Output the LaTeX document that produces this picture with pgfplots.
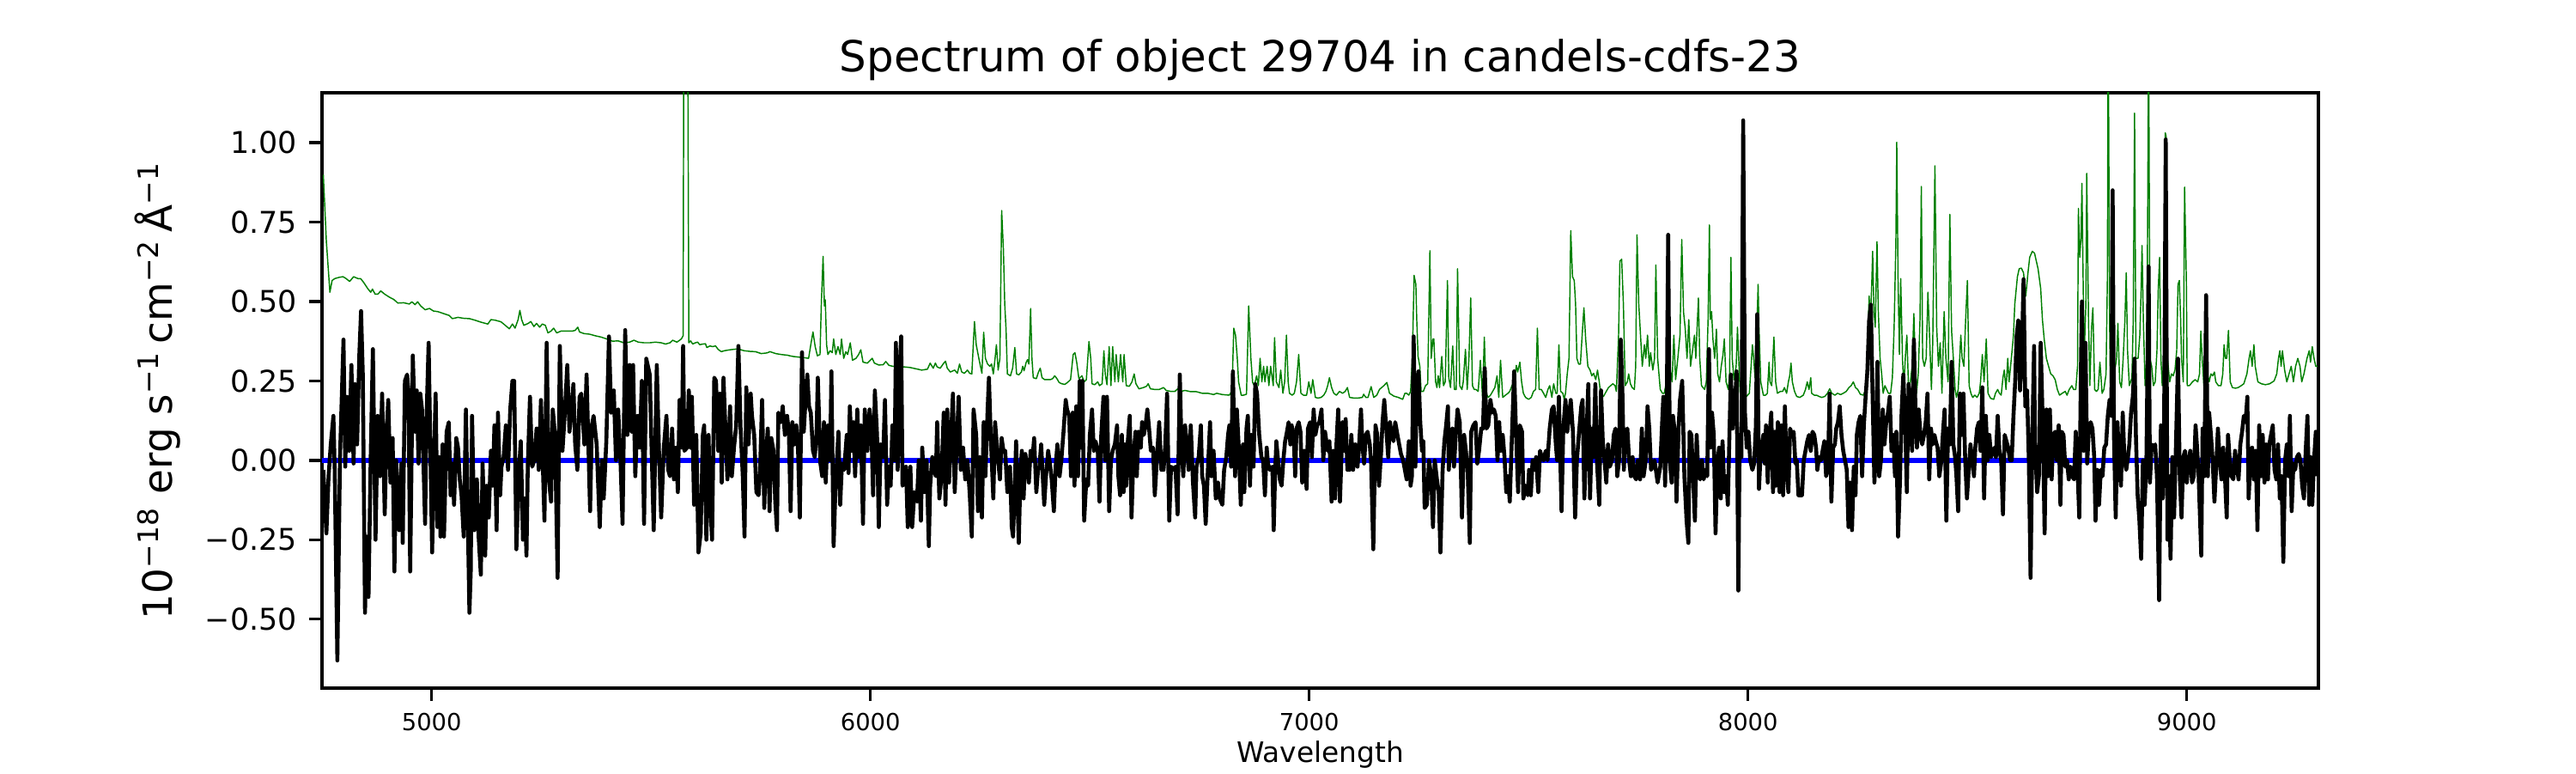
\documentclass[border=0pt]{standalone}
\usepackage{fontspec}
\setmainfont{DejaVu Sans}
\usepackage{pgfplots}
\pgfplotsset{compat=1.18}
\definecolor{mplgreen}{rgb}{0,0.5,0}
\begin{document}
\begin{tikzpicture}
\useasboundingbox (0,0) rectangle (10in,3in);
\begin{axis}[
 at={(1.25in,0.33in)}, anchor=south west,
 scale only axis, width=7.75in, height=2.31in,
 xmin=4750, xmax=9300, ymin=-0.717, ymax=1.157,
 axis line style={line width=0.8pt},
 tick align=outside, major tick length=3.5pt,
 tick style={line width=0.8pt, black},
 xtick pos=left, ytick pos=left,
 xtick={5000,6000,7000,8000,9000},
 xticklabels={5000,6000,7000,8000,9000},
 ytick={-0.5,-0.25,0,0.25,0.5,0.75,1},
 yticklabels={−0.50,−0.25,0.00,0.25,0.50,0.75,1.00},
 xticklabel style={font=\fontsize{6.6}{8}\selectfont},
 yticklabel style={font=\fontsize{8.4}{10}\selectfont},
 title={Spectrum of object 29704 in candels-cdfs-23},
 title style={font=\fontsize{12}{14}\selectfont, anchor=base},
 xlabel={Wavelength},
 xlabel style={font=\fontsize{7.9}{9}\selectfont, at={(rel axis cs:0.5,0)}, anchor=base, yshift=-20.9pt},
 ylabel={10\textsuperscript{−18} erg s\textsuperscript{−1}\,cm\textsuperscript{−2}\,Å\textsuperscript{−1}},
 ylabel style={font=\fontsize{11.3}{13}\selectfont},
 clip=true,
]
\addplot[blue, line width=1.3pt] coordinates {(4750,0) (9298,0)};
\addplot[mplgreen, line width=0.35pt, line join=round] coordinates {
(4753,0.899) (4760,0.688) (4768,0.529) (4773,0.566) (4779,0.572) (4789,0.576) (4798,0.578) (4805,0.572) (4813,0.563) (4822,0.578)
(4832,0.572) (4838,0.572) (4845,0.560) (4854,0.541) (4861,0.529) (4865,0.539) (4871,0.523) (4877,0.523) (4884,0.533) (4893,0.523)
(4903,0.514) (4913,0.507) (4923,0.495) (4936,0.496) (4949,0.492) (4955,0.499) (4962,0.490) (4968,0.499) (4975,0.486) (4985,0.474)
(4995,0.478) (5004,0.470) (5014,0.468) (5027,0.462) (5040,0.456) (5047,0.446) (5060,0.450) (5073,0.447) (5086,0.446) (5099,0.441)
(5112,0.435) (5128,0.429) (5135,0.443) (5145,0.441) (5158,0.436) (5171,0.421) (5177,0.414) (5184,0.429) (5190,0.416) (5197,0.443)
(5201,0.472) (5205,0.443) (5210,0.425) (5220,0.431) (5226,0.437) (5233,0.421) (5239,0.431) (5246,0.419) (5252,0.429) (5259,0.425)
(5265,0.401) (5272,0.407) (5278,0.416) (5285,0.401) (5295,0.407) (5308,0.407) (5321,0.407) (5327,0.409) (5333,0.419) (5337,0.404)
(5347,0.399) (5360,0.397) (5373,0.392) (5386,0.388) (5399,0.382) (5412,0.375) (5425,0.376) (5438,0.370) (5451,0.372) (5461,0.378)
(5471,0.372) (5484,0.370) (5497,0.370) (5510,0.372) (5523,0.370) (5533,0.366) (5543,0.370)
(5549,0.378) (5559,0.372) (5569,0.382) (5573,0.392) (5575,1.6) (5583,1.6) (5586,0.370) (5590,0.376) (5595,0.366) (5601,0.370)
(5606,0.372) (5611,0.364) (5618,0.366) (5624,0.367) (5627,0.355) (5634,0.360) (5640,0.358) (5647,0.360) (5653,0.349) (5660,0.342)
(5667,0.345) (5680,0.348) (5693,0.350) (5702,0.349) (5712,0.345) (5725,0.343) (5738,0.342) (5751,0.336) (5764,0.338) (5771,0.342)
(5784,0.336) (5797,0.333) (5810,0.331) (5823,0.327) (5836,0.325) (5849,0.323) (5859,0.321) (5864,0.364) (5869,0.404) (5874,0.358)
(5879,0.329) (5885,0.333) (5888,0.492) (5892,0.642) (5895,0.486) (5897,0.505) (5900,0.364) (5903,0.333) (5908,0.345) (5913,0.339)
(5916,0.382) (5921,0.333) (5926,0.358) (5931,0.333) (5934,0.382) (5939,0.321) (5944,0.342) (5948,0.333) (5954,0.370) (5959,0.315)
(5967,0.321) (5973,0.333) (5978,0.348) (5983,0.309) (5993,0.306) (6004,0.321) (6009,0.306) (6019,0.300) (6029,0.301) (6035,0.311)
(6042,0.299) (6051,0.296) (6064,0.294) (6077,0.294) (6091,0.292) (6104,0.288) (6117,0.284) (6130,0.287) (6136,0.306) (6143,0.290)
(6148,0.306) (6152,0.294) (6159,0.290) (6166,0.304) (6171,0.312) (6175,0.290) (6182,0.278) (6192,0.284) (6198,0.274) (6203,0.303)
(6208,0.278) (6214,0.274) (6221,0.284) (6226,0.274) (6231,0.272) (6237,0.437) (6241,0.364) (6247,0.321) (6254,0.274) (6258,0.403)
(6262,0.321) (6267,0.303) (6272,0.296) (6276,0.303) (6280,0.272) (6284,0.321) (6287,0.364) (6291,0.284) (6295,0.321) (6299,0.786)
(6303,0.664) (6306,0.492) (6309,0.413)
(6312,0.272) (6319,0.266) (6324,0.290) (6329,0.355) (6333,0.272) (6338,0.269) (6344,0.278) (6347,0.296) (6350,0.282) (6355,0.309)
(6358,0.317) (6361,0.303) (6365,0.478) (6368,0.321) (6371,0.260) (6378,0.257) (6383,0.278) (6387,0.290) (6391,0.260) (6397,0.254)
(6404,0.254) (6410,0.254) (6415,0.257) (6420,0.266) (6425,0.257) (6430,0.245) (6436,0.241) (6443,0.239) (6449,0.245) (6456,0.254)
(6462,0.333) (6466,0.339) (6470,0.309) (6475,0.257) (6482,0.266) (6487,0.247) (6492,0.254) (6498,0.374) (6502,0.321) (6505,0.241)
(6511,0.238) (6518,0.247) (6522,0.235) (6528,0.241) (6532,0.345) (6535,0.272) (6539,0.238) (6544,0.358) (6548,0.235) (6552,0.358)
(6557,0.247) (6560,0.333) (6565,0.247) (6570,0.333) (6575,0.247) (6578,0.333) (6583,0.235) (6590,0.233) (6596,0.247) (6601,0.272)
(6605,0.241) (6612,0.225) (6622,0.229) (6629,0.233) (6633,0.241) (6638,0.225) (6648,0.223) (6658,0.223) (6668,0.229) (6674,0.220)
(6684,0.217) (6694,0.217) (6700,0.225) (6707,0.217) (6717,0.220) (6730,0.216) (6743,0.216) (6756,0.211) (6769,0.211) (6782,0.207)
(6789,0.211) (6802,0.207) (6818,0.205) (6824,0.220) (6828,0.416) (6832,0.394) (6836,0.321) (6839,0.247) (6845,0.205) (6850,0.205)
(6857,0.208) (6862,0.486) (6867,0.321) (6871,0.245) (6875,0.235) (6880,0.266) (6884,0.235) (6888,0.321) (6892,0.247) (6896,0.296)
(6899,0.247) (6904,0.296) (6908,0.235) (6912,0.296) (6918,0.235) (6921,0.386) (6925,0.247) (6931,0.229) (6935,0.284) (6940,0.211)
(6944,0.247) (6948,0.394) (6952,0.247) (6955,0.211) (6961,0.205) (6966,0.211) (6971,0.247) (6976,0.333) (6981,0.211) (6987,0.205)
(6994,0.205) (6999,0.247) (7004,0.211) (7008,0.254) (7014,0.198) (7020,0.196) (7027,0.198) (7033,0.205) (7038,0.217) (7042,0.235)
(7046,0.260) (7051,0.229) (7056,0.211) (7062,0.205) (7069,0.217) (7076,0.211) (7082,0.217) (7087,0.229)
(7092,0.198) (7102,0.196) (7111,0.196) (7121,0.198) (7124,0.208) (7129,0.198) (7134,0.198) (7141,0.232) (7147,0.198) (7154,0.205)
(7160,0.223) (7170,0.235) (7177,0.245) (7183,0.211) (7193,0.202) (7203,0.198) (7213,0.192) (7218,0.211) (7222,0.211) (7227,0.205)
(7231,0.217) (7235,0.321) (7239,0.582) (7243,0.554) (7245,0.443) (7248,0.327) (7252,0.296) (7255,0.217) (7260,0.217) (7265,0.235)
(7270,0.241) (7275,0.660) (7278,0.321) (7282,0.382) (7284,0.382) (7288,0.247) (7291,0.229) (7294,0.266) (7297,0.229) (7302,0.327)
(7306,0.235) (7310,0.247) (7315,0.566) (7318,0.260) (7322,0.229) (7327,0.360) (7331,0.223) (7335,0.223) (7338,0.603) (7343,0.235)
(7348,0.223) (7351,0.247) (7356,0.349) (7360,0.223) (7364,0.321) (7368,0.511) (7372,0.235) (7376,0.223) (7380,0.223) (7385,0.217)
(7390,0.315) (7395,0.198) (7399,0.388) (7403,0.211) (7408,0.198) (7413,0.205) (7418,0.217) (7423,0.229) (7428,0.266) (7432,0.198)
(7436,0.315) (7441,0.198) (7447,0.205) (7453,0.211) (7457,0.217) (7462,0.235) (7467,0.247) (7472,0.299) (7475,0.278) (7480,0.309)
(7484,0.247) (7488,0.211) (7493,0.198) (7500,0.192) (7506,0.198) (7511,0.217) (7516,0.223) (7520,0.416) (7524,0.223) (7529,0.223)
(7534,0.211) (7539,0.198) (7544,0.223) (7548,0.235) (7553,0.198) (7557,0.241) (7562,0.211) (7565,0.211) (7569,0.364) (7573,0.217)
(7578,0.211) (7581,0.192) (7584,0.211) (7588,0.272) (7592,0.321) (7596,0.723) (7600,0.578) (7604,0.566) (7607,0.492) (7610,0.321)
(7614,0.303) (7618,0.303) (7622,0.394) (7626,0.480) (7630,0.382) (7635,0.296) (7640,0.284) (7644,0.266) (7648,0.274) (7653,0.254)
(7657,0.284) (7661,0.247) (7665,0.198) (7671,0.202) (7677,0.217) (7682,0.229) (7687,0.235) (7692,0.241) (7697,0.235) (7700,0.217)
(7705,0.394) (7708,0.627) (7712,0.633) (7716,0.492) (7720,0.235) (7725,0.247) (7728,0.272) (7732,0.241) (7736,0.229) (7741,0.223)
(7744,0.296) (7747,0.710) (7751,0.492) (7755,0.394) (7759,0.296) (7764,0.364) (7767,0.321) (7771,0.394) (7775,0.296) (7778,0.339)
(7783,0.284) (7787,0.321) (7790,0.615) (7794,0.321) (7800,0.223) (7805,0.211) (7809,0.211) (7814,0.247) (7818,0.370) (7822,0.296)
(7827,0.247) (7831,0.394) (7835,0.254) (7840,0.321) (7845,0.394) (7849,0.695) (7853,0.468) (7857,0.413) (7861,0.321) (7865,0.443)
(7869,0.296)
(7878,0.394) (7881,0.321) (7884,0.419) (7887,0.511) (7890,0.321) (7894,0.235) (7901,0.223) (7905,0.247) (7909,0.443) (7912,0.741)
(7914,0.443) (7917,0.468) (7920,0.382) (7924,0.321) (7928,0.413) (7931,0.272) (7935,0.247) (7939,0.296) (7943,0.333) (7946,0.382)
(7950,0.247) (7955,0.223) (7958,0.272) (7961,0.639) (7964,0.321) (7968,0.254) (7973,0.296) (7976,0.419) (7978,0.345) (7982,0.211)
(7989,0.205) (7994,0.198) (7999,0.205) (8003,0.211) (8007,0.296) (8010,0.364) (8013,0.321) (8016,0.260) (8020,0.407) (8023,0.554)
(8025,0.419) (8029,0.247) (8035,0.205) (8040,0.205) (8044,0.211) (8048,0.309) (8050,0.247) (8054,0.235) (8059,0.388) (8063,0.247)
(8067,0.211) (8074,0.217) (8079,0.217) (8083,0.229) (8088,0.211) (8092,0.247) (8095,0.266) (8098,0.306) (8101,0.247) (8106,0.217)
(8111,0.201) (8118,0.198) (8126,0.205) (8131,0.223) (8135,0.247) (8139,0.223) (8143,0.260) (8145,0.211) (8151,0.205) (8156,0.205)
(8162,0.201) (8168,0.198) (8175,0.201) (8181,0.211) (8186,0.225) (8191,0.211) (8198,0.205) (8204,0.211) (8211,0.207) (8217,0.211)
(8224,0.217) (8230,0.229) (8235,0.235) (8240,0.247) (8245,0.229) (8250,0.223) (8256,0.208) (8263,0.205) (8268,0.223) (8272,0.345)
(8276,0.517) (8279,0.443) (8282,0.554) (8284,0.658) (8287,0.468) (8290,0.419) (8294,0.688) (8297,0.468) (8301,0.321) (8305,0.266)
(8308,0.211) (8312,0.235) (8316,0.223) (8320,0.211) (8325,0.211) (8329,0.260) (8333,0.419) (8337,0.688) (8339,1.001) (8342,0.566)
(8345,0.333) (8348,0.572) (8352,0.321) (8355,0.235) (8359,0.333) (8362,0.394) (8366,0.223) (8370,0.247) (8374,0.296) (8378,0.462)
(8381,0.321) (8384,0.211) (8388,0.272) (8392,0.443) (8395,0.862) (8398,0.321) (8402,0.296) (8406,0.321) (8410,0.529) (8414,0.382)
(8418,0.223) (8421,0.370) (8426,0.927) (8430,0.419) (8434,0.296) (8438,0.370) (8442,0.211) (8447,0.468) (8451,0.321) (8456,0.247)
(8460,0.774) (8464,0.407) (8468,0.321) (8472,0.223) (8475,0.198) (8479,0.223) (8485,0.394) (8488,0.321) (8492,0.296) (8496,0.443)
(8500,0.566) (8504,0.235) (8508,0.211) (8512,0.198) (8517,0.205) (8522,0.198) (8527,0.211) (8530,0.247) (8534,0.333) (8538,0.247)
(8543,0.382) (8547,0.211) (8553,0.195) (8560,0.192) (8564,0.211) (8569,0.223) (8573,0.211) (8577,0.205) (8581,0.260) (8584,0.284)
(8588,0.223) (8592,0.321) (8595,0.247) (8601,0.333) (8605,0.394) (8608,0.492) (8614,0.578) (8618,0.603) (8623,0.605) (8628,0.590)
(8633,0.517) (8638,0.590) (8642,0.639) (8648,0.658) (8653,0.652)
(8661,0.603) (8667,0.541) (8671,0.443) (8675,0.382) (8680,0.321) (8685,0.296) (8690,0.272) (8695,0.266) (8700,0.254) (8705,0.223)
(8710,0.205) (8716,0.211) (8723,0.217) (8727,0.205) (8732,0.223) (8738,0.235) (8742,0.223) (8747,0.223) (8751,0.296) (8753,0.793)
(8756,0.639) (8759,0.701) (8761,0.872) (8764,0.541) (8766,0.321) (8770,0.492) (8772,0.903) (8776,0.443) (8779,0.235) (8783,0.419)
(8786,0.480) (8790,0.223) (8794,0.217) (8798,0.223) (8802,0.309) (8804,0.272) (8807,0.211) (8811,0.223) (8816,0.272) (8819,0.566)
(8821,1.4) (8824,0.443) (8826,0.223) (8830,0.235) (8836,0.284) (8840,0.321) (8843,0.431) (8847,0.247) (8851,0.229) (8855,0.321)
(8859,0.443) (8862,0.590) (8865,0.345) (8869,0.235) (8875,0.260) (8878,0.443) (8881,1.093) (8884,0.321) (8889,0.321) (8893,0.394)
(8896,0.541) (8898,0.676) (8901,0.443) (8905,0.235) (8909,0.321) (8911,0.811) (8913,1.4) (8916,0.321) (8920,0.296) (8924,0.235)
(8928,0.247) (8932,0.345) (8935,0.541) (8938,0.639) (8941,0.321) (8944,0.235) (8948,0.321) (8951,1.031) (8953,1.019) (8956,0.321)
(8961,0.247) (8965,0.272) (8969,0.266) (8973,0.284) (8977,0.345) (8980,0.554) (8983,0.566) (8986,0.443) (8988,0.321) (8992,0.247)
(8995,0.860) (8999,0.566) (9001,0.235) (9006,0.235) (9013,0.247) (9019,0.254) (9025,0.247) (9029,0.272) (9032,0.407) (9035,0.321)
(9039,0.235) (9043,0.247) (9047,0.272) (9051,0.247) (9055,0.272) (9059,0.266) (9063,0.278) (9066,0.247) (9072,0.235) (9078,0.235)
(9082,0.272) (9085,0.364) (9088,0.321) (9091,0.321) (9095,0.409) (9099,0.247) (9104,0.229) (9111,0.227) (9117,0.229) (9124,0.235)
(9130,0.241) (9137,0.272) (9142,0.321) (9145,0.345) (9149,0.296) (9153,0.364) (9156,0.296) (9162,0.247) (9170,0.241) (9179,0.238)
(9189,0.241) (9199,0.250) (9205,0.272) (9209,0.321) (9212,0.345) (9215,0.296) (9218,0.345) (9223,0.284) (9228,0.247) (9233,0.272)
(9238,0.296) (9243,0.247) (9248,0.296) (9253,0.321) (9258,0.296) (9262,0.247) (9267,0.272) (9274,0.321) (9279,0.345) (9282,0.309)
(9286,0.358) (9290,0.321) (9294,0.296) (9298,0.296)
};
\addplot[black, line width=1.1pt, line join=round] coordinates {
(4753,-0.03) (4760,-0.23) (4765,-0.05) (4770,0.05) (4776,0.14) (4779,-0.03) (4785,-0.63) (4791,0.01) (4799,0.38) (4803,-0.02)
(4807,0.20) (4812,0.03) (4817,0.30) (4822,-0.01) (4825,0.24) (4830,0.05) (4835,0.33) (4839,0.47) (4843,0.27) (4848,-0.48)
(4852,-0.24) (4856,-0.43) (4861,0.01) (4866,0.35) (4872,-0.25) (4877,0.14) (4882,-0.05) (4887,0.21) (4893,-0.17) (4897,0.08)
(4901,0.19) (4906,-0.07) (4911,0.07) (4915,-0.35) (4919,0.00) (4926,-0.22) (4931,-0.01) (4934,-0.26) (4939,0.25) (4944,0.27)
(4947,0.22) (4951,-0.35) (4957,0.33) (4962,0.09) (4966,0.22) (4970,-0.01) (4974,0.21) (4978,0.16) (4985,-0.20) (4988,0.12)
(4993,0.37) (4998,-0.05) (5001,-0.29) (5005,-0.01) (5009,0.21) (5013,-0.21) (5017,0.01) (5020,-0.24) (5025,0.05) (5028,-0.24)
(5034,0.09) (5039,0.12) (5043,-0.11) (5047,-0.01) (5051,-0.14) (5056,0.07) (5060,0.04) (5064,-0.06) (5068,-0.11) (5073,-0.24)
(5078,0.16) (5081,-0.08) (5086,-0.48) (5089,-0.35) (5092,0.14) (5097,-0.22) (5103,-0.06) (5107,-0.24) (5112,-0.36) (5116,-0.01)
(5122,-0.30) (5125,-0.08) (5130,-0.18) (5135,0.03) (5139,-0.08) (5143,0.11) (5148,-0.22) (5151,0.15) (5156,-0.11) (5159,-0.02)
(5164,0.01) (5169,0.11) (5174,-0.03) (5179,0.16) (5184,0.25) (5188,0.25) (5193,-0.28) (5199,-0.03) (5203,0.06) (5208,-0.25)
(5212,-0.12) (5216,-0.30) (5219,-0.02) (5224,0.20) (5229,-0.02) (5234,0.00) (5239,0.10) (5244,-0.03) (5249,0.19) (5253,0.00)
(5257,-0.19) (5262,0.37) (5267,-0.06) (5272,-0.13) (5276,0.16) (5281,0.08) (5287,-0.37) (5292,0.36) (5298,0.03) (5303,0.14)
(5309,0.30) (5314,0.09) (5318,0.15) (5323,0.24) (5327,0.05) (5332,-0.03) (5337,0.20) (5341,0.21) (5348,0.05) (5353,0.27)
(5361,-0.16) (5365,0.11) (5369,0.14) (5376,0.05) (5383,-0.21) (5388,0.00) (5392,-0.12) (5398,0.06) (5404,0.39) (5409,0.15)
(5415,0.22) (5420,0.00) (5425,0.16) (5430,0.01) (5435,-0.20) (5441,0.41) (5446,0.08) (5451,0.30) (5456,0.09) (5459,0.30)
(5464,-0.05) (5469,0.14) (5474,0.04) (5479,0.25) (5484,-0.20) (5489,0.32) (5497,0.27) (5500,0.10) (5506,-0.22) (5513,0.30)
(5518,0.03) (5523,-0.18) (5529,0.04) (5535,0.14) (5539,-0.03)
(5543,-0.05) (5548,0.10) (5552,-0.06) (5557,0.04) (5561,-0.10) (5565,0.19) (5570,0.04) (5573,0.36) (5576,0.03) (5582,0.04)
(5586,0.22) (5590,0.04) (5593,0.20) (5598,-0.14) (5603,0.08) (5608,-0.29) (5613,-0.23) (5618,0.08) (5621,0.11) (5626,-0.25)
(5631,0.08) (5634,-0.11) (5639,-0.25) (5644,0.26) (5648,0.25) (5653,0.03) (5657,0.21) (5661,-0.07) (5665,0.26) (5670,0.08)
(5674,-0.06) (5680,0.17) (5684,-0.05) (5689,0.04) (5694,0.11) (5699,0.36) (5704,0.10) (5709,-0.05) (5713,-0.24) (5717,0.23)
(5722,0.05) (5727,0.21) (5730,0.14) (5735,0.08) (5740,-0.10) (5745,-0.11) (5748,-0.05) (5753,0.19) (5758,-0.15) (5761,0.00)
(5766,0.10) (5770,-0.16) (5774,0.07) (5779,0.03) (5783,-0.13) (5787,-0.22) (5790,0.15) (5796,0.12) (5800,0.17) (5805,0.08)
(5810,0.14) (5814,0.09) (5818,-0.16) (5822,0.12) (5826,0.05) (5831,0.11) (5835,0.03) (5839,-0.18) (5844,0.34) (5848,0.09)
(5852,0.19) (5856,0.27) (5860,0.17) (5864,0.15) (5869,0.03) (5873,0.01) (5877,0.08) (5880,0.26) (5886,-0.01) (5890,-0.05)
(5894,0.12) (5898,-0.07) (5903,0.11) (5908,0.00) (5911,0.28) (5916,-0.27) (5920,-0.10) (5924,0.01) (5927,0.09) (5931,-0.14)
(5935,-0.01) (5940,-0.03) (5946,0.08) (5950,-0.04) (5953,0.17) (5957,0.03) (5961,0.12) (5965,-0.05) (5970,0.16) (5973,0.01)
(5978,0.11) (5983,-0.20) (5987,0.16) (5993,0.03) (5998,0.16) (6002,0.11) (6006,-0.11) (6010,0.22) (6015,0.08) (6019,-0.21)
(6023,0.05) (6029,0.01) (6033,0.19) (6038,-0.14) (6042,-0.02) (6046,-0.08) (6050,0.11) (6055,0.00) (6058,0.37) (6062,-0.03)
(6066,0.27) (6070,0.39) (6073,-0.08) (6077,-0.07) (6081,-0.02) (6085,-0.21) (6091,-0.02) (6095,-0.21) (6100,-0.10) (6106,-0.13)
(6110,0.00) (6115,-0.19) (6118,0.04) (6123,-0.10) (6128,0.00) (6133,-0.27) (6136,-0.08) (6141,0.01) (6145,-0.03) (6149,-0.05)
(6152,0.12) (6157,-0.12) (6162,-0.05) (6167,0.15) (6171,-0.14) (6175,0.16) (6179,-0.07) (6183,0.06) (6188,0.21) (6192,-0.10)
(6196,0.03) (6201,0.20) (6206,-0.03) (6211,0.04) (6216,-0.06) (6221,0.00) (6226,-0.10) (6231,-0.24) (6235,0.16) (6241,0.08)
(6245,-0.16) (6249,0.01) (6254,-0.18) (6258,0.12) (6262,-0.05) (6267,0.16) (6270,0.26) (6274,0.08) (6280,-0.12) (6284,0.12)
(6289,0.03) (6295,-0.06) (6299,0.07) (6303,0.03) (6307,0.03) (6312,-0.10) (6318,-0.02) (6322,-0.21)
(6325,-0.24) (6329,-0.07) (6332,0.06) (6335,-0.12) (6338,-0.26) (6342,-0.03) (6345,0.03) (6349,-0.12) (6353,0.02) (6357,-0.02)
(6361,-0.07) (6365,0.03) (6369,0.00) (6373,0.07) (6378,-0.10) (6382,-0.03) (6385,-0.02) (6389,0.05) (6393,-0.06) (6396,-0.14)
(6400,-0.05) (6405,0.03) (6409,-0.01) (6413,-0.06) (6418,-0.16) (6422,-0.02) (6426,0.05) (6431,-0.05) (6435,0.00) (6440,0.09)
(6445,0.19) (6448,0.16) (6453,0.14) (6457,-0.05) (6461,0.15) (6465,-0.08) (6469,0.17) (6473,-0.05) (6477,0.25) (6480,0.04)
(6483,0.25) (6487,-0.19) (6492,-0.06) (6496,-0.08) (6500,0.08) (6505,0.16) (6509,0.03) (6513,0.06) (6518,0.03) (6522,-0.13)
(6526,0.08) (6531,0.20) (6535,0.00) (6539,0.20) (6544,-0.16) (6548,0.00) (6552,0.03) (6557,0.05) (6562,0.11) (6565,-0.05)
(6569,-0.11) (6573,0.08) (6577,-0.10) (6580,0.05) (6583,-0.08) (6586,0.05) (6591,0.14) (6595,-0.18) (6599,0.00) (6604,0.09)
(6607,-0.05) (6611,0.09) (6616,0.04) (6619,0.12) (6623,0.08) (6627,0.11) (6631,0.16) (6635,0.10) (6639,0.03) (6644,0.04)
(6648,-0.11) (6653,0.01) (6658,0.12) (6663,-0.03) (6668,-0.03) (6672,0.05) (6676,0.21) (6681,-0.19) (6685,-0.02) (6691,-0.03)
(6695,-0.02) (6700,-0.17) (6705,0.27) (6709,0.04) (6713,-0.05) (6717,0.11) (6721,0.05) (6725,-0.03) (6730,0.11) (6735,-0.07)
(6740,-0.18) (6743,-0.02) (6748,0.01) (6753,0.11) (6756,-0.05) (6760,-0.08) (6764,-0.20) (6769,-0.03) (6774,0.12) (6777,-0.05)
(6782,0.03) (6787,-0.12) (6792,-0.07) (6796,-0.12) (6802,-0.14) (6806,-0.03) (6811,0.01) (6815,0.08) (6818,0.11) (6822,-0.02)
(6826,0.28) (6831,-0.05) (6835,0.16) (6839,0.05) (6844,-0.14) (6849,0.05) (6852,-0.10) (6857,0.10) (6860,0.14) (6865,-0.08)
(6868,0.08) (6873,-0.02) (6877,0.24) (6881,0.21) (6886,0.08) (6891,0.01) (6895,0.00) (6899,-0.11) (6903,0.04) (6906,-0.01)
(6910,-0.03) (6916,-0.02) (6919,-0.22) (6922,-0.05) (6925,0.06) (6929,0.00) (6933,-0.06) (6937,-0.08) (6941,0.00) (6945,0.06)
(6948,0.08) (6953,0.12) (6957,0.05) (6960,0.11) (6965,0.06) (6968,-0.05) (6971,0.10) (6976,0.12) (6980,0.09) (6984,-0.07)
(6989,0.03) (6994,-0.09) (6997,0.10) (7002,0.12) (7006,0.01) (7010,0.16) (7014,0.08) (7018,0.11) (7023,0.12) (7028,0.16)
(7032,0.00) (7036,0.09) (7042,0.03) (7046,0.06) (7051,-0.13) (7055,0.03) (7059,-0.12) (7062,0.05) (7066,0.16) (7070,-0.13)
(7076,0.12) (7079,0.03) (7083,0.13) (7087,-0.03)
(7092,-0.03) (7096,0.08) (7100,-0.03) (7105,0.05) (7110,-0.02) (7113,0.03) (7118,0.16) (7121,0.05) (7125,-0.01) (7129,0.08)
(7133,0.09) (7138,0.05) (7141,-0.01) (7146,-0.28) (7151,0.11) (7155,0.08) (7159,-0.08) (7164,0.03) (7167,0.12) (7171,0.19)
(7175,0.11) (7180,0.01) (7184,0.12) (7188,0.08) (7192,0.06) (7196,0.12) (7201,0.08) (7205,0.05) (7209,0.02) (7214,0.00)
(7218,-0.03) (7222,-0.06) (7227,0.06) (7231,-0.08) (7234,-0.05) (7238,0.39) (7242,-0.02) (7245,0.22) (7249,0.28) (7253,0.12)
(7257,0.03) (7260,0.06) (7263,-0.15) (7268,-0.14) (7273,0.00) (7278,-0.05) (7282,-0.21) (7286,0.00) (7291,-0.06) (7295,-0.10)
(7299,-0.29) (7304,-0.03) (7308,0.06) (7312,0.11) (7316,0.17) (7318,-0.03) (7322,0.06) (7326,0.10) (7330,-0.02) (7334,0.08)
(7338,0.16) (7343,0.12) (7348,-0.18) (7353,0.08) (7357,0.03) (7361,-0.03) (7366,-0.26) (7369,0.09) (7374,0.11) (7379,0.12)
(7383,-0.01) (7387,0.03) (7392,0.10) (7396,0.10) (7400,0.29) (7404,0.10) (7408,0.11) (7413,0.19) (7417,0.15) (7421,0.16)
(7425,0.14) (7429,0.00) (7433,0.12) (7436,0.03) (7441,0.08) (7445,0.01) (7449,-0.10) (7453,-0.05) (7457,-0.13) (7462,0.08)
(7467,0.28) (7471,0.10) (7476,-0.10) (7480,0.11) (7485,0.09) (7488,-0.12) (7493,-0.08) (7498,-0.11) (7501,-0.03) (7505,-0.11)
(7509,0.00) (7513,-0.03) (7517,0.01) (7522,-0.10) (7526,0.03) (7530,0.01) (7534,0.00) (7539,0.03) (7543,0.00) (7548,0.10)
(7553,0.16) (7557,0.17) (7562,0.05) (7565,0.00) (7569,0.20) (7575,-0.16) (7579,0.10) (7584,0.19) (7588,0.09) (7592,0.14)
(7596,0.19) (7601,0.09) (7606,-0.18) (7610,0.00) (7615,0.09) (7620,0.17) (7623,0.19) (7627,-0.12) (7632,0.08) (7636,0.24)
(7640,-0.12) (7644,0.10) (7648,0.01) (7652,0.24) (7656,-0.01) (7661,-0.14) (7665,0.22) (7669,0.06) (7673,0.00) (7677,-0.07)
(7681,0.05) (7685,-0.02) (7690,0.00) (7694,0.08) (7698,0.10) (7702,-0.05) (7706,0.00) (7710,0.38) (7714,0.20) (7717,-0.03)
(7721,0.09) (7725,0.10) (7729,0.00) (7733,-0.05) (7737,0.01) (7741,-0.05) (7745,-0.06) (7749,0.00) (7754,-0.06) (7758,0.10)
(7762,-0.05) (7767,0.00) (7771,0.17) (7775,0.10) (7779,-0.03) (7783,-0.02) (7787,0.00) (7790,-0.03) (7794,-0.07) (7800,-0.02)
(7804,0.11) (7807,0.20) (7811,-0.08) (7815,0.19) (7818,0.71) (7822,-0.01) (7826,-0.07) (7829,0.14) (7834,0.08) (7837,-0.13)
(7842,0.11) (7845,0.19) (7850,0.25) (7855,-0.05) (7860,-0.19) (7864,-0.26) (7867,0.09) (7871,0.08)
(7875,-0.06) (7879,-0.19) (7883,0.08) (7887,-0.05) (7891,-0.06) (7895,0.00) (7899,-0.06) (7903,-0.03) (7907,-0.05) (7911,0.35)
(7914,0.04) (7918,0.15) (7922,0.08) (7926,-0.23) (7930,-0.02) (7934,0.04) (7938,-0.12) (7942,0.06) (7946,-0.10) (7950,-0.05)
(7954,-0.14) (7958,0.10) (7961,0.27) (7965,0.10) (7968,0.22) (7971,0.20) (7974,0.28) (7978,-0.41) (7981,0.08) (7985,0.01)
(7989,1.07) (7993,0.15) (7997,0.04) (8001,0.09) (8005,0.00) (8010,-0.03) (8014,-0.01) (8018,0.11) (8021,0.46) (8025,-0.09)
(8028,0.00) (8031,0.04) (8035,0.08) (8038,-0.01) (8041,0.11) (8045,-0.07) (8049,0.08) (8053,0.15) (8057,-0.10) (8061,0.09)
(8064,-0.08) (8068,0.12) (8072,-0.10) (8076,0.11) (8080,-0.11) (8084,0.17) (8088,-0.03) (8092,-0.10) (8096,0.10) (8100,0.08)
(8104,0.09) (8108,-0.01) (8111,0.00) (8115,-0.11) (8119,-0.11) (8123,-0.11) (8127,0.00) (8131,0.03) (8135,0.06) (8139,0.08)
(8143,0.03) (8147,0.09) (8151,0.08) (8155,0.04) (8158,-0.03) (8162,0.01) (8166,0.00) (8170,0.03) (8174,0.06) (8178,-0.05)
(8182,-0.03) (8186,0.21) (8190,-0.13) (8194,0.04) (8198,0.05) (8201,0.10) (8205,0.12) (8209,0.17) (8213,0.08) (8217,0.03)
(8221,0.00) (8225,-0.03) (8229,-0.21) (8233,-0.07) (8237,-0.22) (8241,-0.02) (8245,-0.11) (8248,0.08) (8252,0.12) (8256,0.14)
(8260,-0.05) (8264,0.11) (8268,0.20) (8272,0.28) (8276,0.44) (8280,0.49) (8284,0.20) (8288,-0.07) (8292,0.04) (8295,0.31)
(8299,-0.05) (8303,0.00) (8307,0.16) (8311,0.05) (8315,0.12) (8319,0.15) (8323,0.20) (8327,0.03) (8331,0.08) (8335,-0.05)
(8338,0.09) (8342,-0.24) (8346,-0.08) (8350,0.15) (8354,0.27) (8358,0.12) (8362,-0.10) (8366,0.24) (8370,0.12) (8374,0.03)
(8378,0.38) (8382,0.14) (8385,0.04) (8389,0.16) (8393,0.08) (8397,0.05) (8401,0.08) (8405,0.12) (8409,0.21) (8413,-0.06)
(8417,0.10) (8421,0.05) (8425,0.08) (8428,0.06) (8432,0.04) (8436,-0.05) (8440,-0.01) (8444,0.08) (8448,0.16) (8452,-0.19)
(8456,0.10) (8460,0.05) (8464,0.31) (8468,0.05) (8472,0.01) (8475,-0.05) (8479,-0.16) (8483,0.21) (8487,0.08) (8491,0.21)
(8495,0.00) (8499,-0.12) (8503,-0.03) (8507,0.05) (8511,0.00) (8515,-0.05) (8518,0.04) (8522,0.10) (8526,0.12) (8530,0.03)
(8534,0.23) (8538,-0.12) (8542,0.14) (8546,0.00) (8550,0.08) (8554,0.01) (8558,0.03) (8562,0.04) (8565,0.01) (8569,0.14)
(8573,0.03) (8577,0.00) (8581,-0.17) (8585,0.08) (8589,0.06) (8593,0.04) (8597,0.00) (8601,0.00) (8605,0.14) (8609,0.25)
(8612,0.39) (8616,0.44) (8620,0.22) (8624,0.33) (8628,0.57) (8632,0.17) (8636,0.22) (8640,0.00) (8644,-0.37) (8648,0.08)
(8652,0.36)
(8654,0.05) (8659,-0.10) (8663,-0.05) (8667,0.37) (8672,0.10) (8676,-0.23) (8680,0.16) (8684,-0.05) (8688,0.16) (8692,-0.06)
(8696,0.08) (8700,0.09) (8704,0.00) (8708,0.11) (8712,-0.14) (8715,0.09) (8719,0.08) (8723,-0.02) (8727,0.00) (8731,-0.06)
(8735,-0.02) (8739,-0.05) (8743,-0.06) (8747,0.09) (8751,-0.03) (8755,-0.18) (8759,0.32) (8761,0.50) (8765,0.03) (8769,0.37)
(8773,-0.01) (8777,0.10) (8781,0.12) (8785,0.10) (8789,0.01) (8792,-0.19) (8796,-0.03) (8800,-0.14) (8804,-0.03) (8808,-0.05)
(8812,0.04) (8816,0.05) (8820,0.14) (8824,0.19) (8828,0.14) (8831,0.85) (8834,0.08) (8838,-0.18) (8842,0.12) (8846,-0.01)
(8850,-0.08) (8854,0.15) (8858,0.00) (8862,-0.03) (8866,0.01) (8869,0.05) (8873,0.15) (8877,0.20) (8881,0.32) (8884,0.08)
(8888,-0.11) (8892,-0.19) (8896,-0.31) (8900,0.00) (8904,-0.14) (8908,0.00) (8913,0.61) (8916,-0.07) (8920,0.05) (8924,0.04)
(8928,0.05) (8932,-0.05) (8937,-0.44) (8941,0.11) (8945,-0.12) (8948,0.03) (8952,1.01) (8956,-0.25) (8959,-0.05) (8963,-0.31)
(8967,0.01) (8971,-0.18) (8975,0.03) (8980,0.32) (8984,-0.05) (8988,-0.18) (8992,0.01) (8996,0.03) (9000,-0.07) (9004,0.00)
(9008,0.03) (9012,-0.07) (9016,-0.05) (9020,0.11) (9023,0.05) (9027,-0.05) (9033,-0.30) (9036,0.10) (9040,-0.05) (9044,0.52)
(9048,-0.05) (9051,0.15) (9055,0.08) (9059,0.00) (9063,-0.13) (9067,-0.02) (9071,0.10) (9075,0.00) (9079,-0.06) (9083,0.04)
(9087,-0.05) (9091,-0.18) (9094,0.08) (9098,0.00) (9102,-0.05) (9106,-0.06) (9110,0.03) (9114,-0.02) (9118,-0.06) (9122,0.05)
(9126,0.09) (9130,0.14) (9134,0.12) (9138,0.20) (9141,-0.12) (9145,0.00) (9149,0.04) (9153,-0.06) (9157,0.03) (9161,-0.22)
(9165,0.11) (9169,-0.05) (9173,0.08) (9177,-0.07) (9181,0.05) (9185,-0.06) (9188,0.05) (9192,0.08) (9196,0.11) (9200,-0.03)
(9204,-0.06) (9208,0.05) (9212,-0.12) (9216,-0.05) (9220,-0.32) (9224,0.00) (9228,0.05) (9232,-0.05) (9235,0.14) (9239,-0.16)
(9243,-0.01) (9247,-0.03) (9251,0.01) (9255,0.02) (9259,0.00) (9263,-0.08) (9267,-0.12) (9271,0.03) (9275,0.14) (9279,-0.14)
(9282,0.01) (9286,-0.14) (9290,0.00) (9294,0.09) (9298,-0.05)
};
\end{axis}
\end{tikzpicture}
\end{document}
